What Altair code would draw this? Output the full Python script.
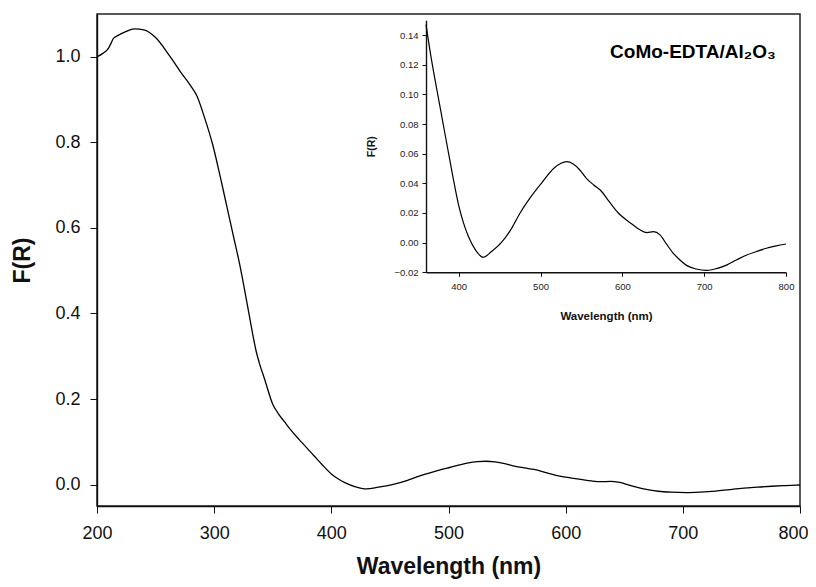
import altair as alt
import pandas as pd

# Wavelength (nm) and F(R) values
wavelength = [200, 205, 210, 212, 214, 218, 224, 232, 240, 250, 262, 272, 280, 285,
              292, 299, 305, 311, 317, 322, 328, 331, 333, 336, 339, 343, 350, 355,
              360, 365, 370, 375, 380, 386, 392, 400, 406, 412, 420, 430, 440, 452,
              465, 475, 487, 501, 516, 525, 532, 540, 548, 556, 565, 573, 584, 595,
              605, 613, 622, 630, 638, 646, 654, 662, 670, 679, 690, 703, 715, 728,
              740, 752, 764, 776, 788, 800]
fr = [1.000, 1.008, 1.021, 1.032, 1.043, 1.050, 1.058, 1.065, 1.063, 1.045, 1.002,
      0.962, 0.932, 0.910, 0.856, 0.792, 0.722, 0.648, 0.574, 0.512, 0.425, 0.380,
      0.350, 0.310, 0.280, 0.247, 0.188, 0.165, 0.147, 0.129, 0.113, 0.098, 0.083,
      0.065, 0.047, 0.025, 0.013, 0.004, -0.0045, -0.0099, -0.006, 0.000, 0.010,
      0.020, 0.030, 0.040, 0.050, 0.0535, 0.0546, 0.053, 0.049, 0.0434, 0.0389,
      0.0355, 0.0276, 0.020, 0.0153, 0.0120, 0.0085, 0.0068, 0.0074, 0.0052,
      -0.001, -0.007, -0.0115, -0.0155, -0.0178, -0.0187, -0.0175, -0.015,
      -0.0115, -0.0083, -0.006, -0.0038, -0.0022, -0.0009]

main_xticks = [200, 300, 400, 500, 600, 700, 800]
main_yticks = [0.0, 0.2, 0.4, 0.6, 0.8, 1.0]
inset_xticks = [400, 500, 600, 700, 800]
inset_yticks = [-0.02, 0.0, 0.02, 0.04, 0.06, 0.08, 0.10, 0.12, 0.14]

label_text = ["CoMo-EDTA/Al\u2082O\u2083"]
label_wl = [585]
label_fr = [0.1245]

FONT = "Liberation Sans"

df = pd.DataFrame({"wl": wavelength, "fr": fr})
df_inset = df[df["wl"] >= 360]
df_label = pd.DataFrame({"wl": label_wl, "fr": label_fr, "t": label_text})

main = alt.Chart(df).mark_line(color="black", strokeWidth=1.3, interpolate="monotone").encode(
    x=alt.X("wl:Q",
            scale=alt.Scale(domain=[200, 800], nice=False, zero=False),
            axis=alt.Axis(values=main_xticks, title="Wavelength (nm)", labelFontSize=18,
                          tickSize=7, labelPadding=11, titleFontSize=23,
                          titleFontWeight="bold", titleY=67, titleBaseline="alphabetic",
                          grid=False, labelFlush=False,
                          labelOffset={"condition": {"test": "datum.value == 800", "value": -7},
                                       "value": 0})),
    y=alt.Y("fr:Q",
            scale=alt.Scale(domain=[-0.05, 1.1], nice=False, zero=False),
            axis=alt.Axis(values=main_yticks, format=".1f", title="F(R)", labelFontSize=18,
                          tickSize=7, labelPadding=10, titleFontSize=23,
                          titleFontWeight="bold", titleX=-68, titleY=246, titleAngle=270,
                          titleAlign="center", titleBaseline="alphabetic", grid=False,
                          labelFlush=False)),
)

inset_x = alt.X("wl:Q",
                scale=alt.Scale(domain=[360, 800], range=[329, 689], nice=False, zero=False),
                axis=alt.Axis(values=inset_xticks, orient="bottom", offset=-233.7,
                              title="Wavelength (nm)", labelFontSize=9.5, tickSize=4,
                              labelPadding=5, titleFontSize=11.5, titleFontWeight="bold",
                              titleY=46.7, titleBaseline="alphabetic", grid=False,
                              labelFlush=False, labelColor="#222"))
inset_y = alt.Y("fr:Q",
                scale=alt.Scale(domain=[-0.02, 0.15], range=[258.3, 6.2], nice=False, zero=False),
                axis=alt.Axis(values=inset_yticks, format=".2f", orient="left", offset=-329,
                              title="F(R)", labelFontSize=9.5, tickSize=4, labelPadding=4,
                              titleFontSize=10.5, titleFontWeight="bold", titleX=-51.5,
                              titleY=132.25, titleAngle=270, titleAlign="center",
                              titleBaseline="alphabetic", grid=False, labelFlush=False,
                              labelColor="#222"))

inset_line = alt.Chart(df_inset).mark_line(
    color="black", strokeWidth=1.2, interpolate="monotone").encode(x=inset_x, y=inset_y)

inset_label = alt.Chart(df_label).mark_text(
    align="left", baseline="alphabetic", fontSize=19, fontWeight="bold", font=FONT,
    color="black").encode(x=inset_x, y=inset_y, text="t:N")

inset = alt.layer(inset_line, inset_label)

chart = alt.layer(main, inset).resolve_scale(x="independent", y="independent").properties(
    width=703, height=492,
    autosize=alt.AutoSizeParams(type="none"),
    padding={"left": 89, "top": 6, "right": 8, "bottom": 73},
).configure(font=FONT).configure_view(
    stroke="#222", strokeWidth=1.5
).configure_axis(
    domainColor="#111", domainWidth=1.4, tickColor="#111", labelColor="#111",
    labelFont=FONT, titleFont=FONT, titleColor="#111"
)

chart.save("out.html", embed_options={"renderer": "svg", "actions": False})
